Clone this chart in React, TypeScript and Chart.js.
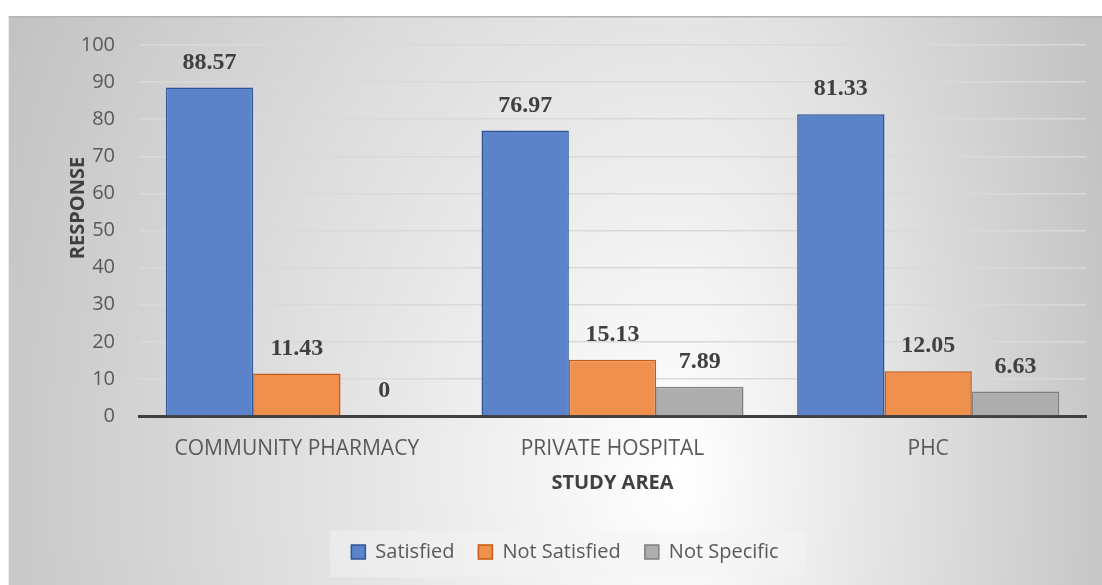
import React, { useEffect, useRef } from "react";
import { Chart, registerables } from "chart.js";

Chart.register(...registerables);

const categories = ["COMMUNITY PHARMACY", "PRIVATE HOSPITAL", "PHC"];
const satisfied = [88.57, 76.97, 81.33];
const notSatisfied = [11.43, 15.13, 12.05];
const notSpecific = [0, 7.89, 6.63];
const seriesNames = ["Satisfied", "Not Satisfied", "Not Specific"];
const yMin = 0;
const yMax = 100;
const yStep = 10;
const yTitle = "RESPONSE";
const xTitle = "STUDY AREA";

const FONT = "'Open Sans', 'DejaVu Sans', sans-serif";

let bgCache: HTMLCanvasElement | null = null;
function makeBackground(w: number, h: number): HTMLCanvasElement {
  if (bgCache && bgCache.width === w && bgCache.height === h) return bgCache;
  const c = document.createElement("canvas");
  c.width = w;
  c.height = h;
  const cx = c.getContext("2d")!;
  const img = cx.createImageData(w, h);
  const ccx = 672, ccy = 454;
  for (let y = 0; y < h; y++) {
    for (let x = 0; x < w; x++) {
      const dx = x - ccx;
      const dy = y - ccy;
      const rx = dx < 0 ? 740 : 450;
      const ry = 1000;
      let t = Math.sqrt((dx / rx) * (dx / rx) + (dy / ry) * (dy / ry));
      if (t > 1) t = 1;
      const v = Math.round(255 - 60 * t);
      const i = (y * w + x) * 4;
      img.data[i] = v;
      img.data[i + 1] = v;
      img.data[i + 2] = v;
      img.data[i + 3] = 255;
    }
  }
  cx.putImageData(img, 0, 0);
  bgCache = c;
  return c;
}

const bgPlugin = {
  id: "bgPlugin",
  beforeDraw(chart: any) {
    const ctx = chart.ctx;
    const w = chart.width;
    const h = chart.height;
    ctx.save();
    ctx.drawImage(makeBackground(w, h), 0, 0);
    ctx.strokeStyle = "#b4b4b4";
    ctx.lineWidth = 1.5;
    ctx.beginPath();
    ctx.moveTo(0, 0.75);
    ctx.lineTo(w, 0.75);
    ctx.stroke();
    ctx.strokeStyle = "#ececec";
    ctx.lineWidth = 1;
    ctx.beginPath();
    ctx.moveTo(0.5, 0);
    ctx.lineTo(0.5, h);
    ctx.stroke();
    ctx.fillStyle = "rgba(244,244,244,0.45)";
    ctx.fillRect(322, 515, 475, 46);
    ctx.restore();
  },
};

const labelPlugin = {
  id: "labelPlugin",
  afterDatasetsDraw(chart: any) {
    const ctx = chart.ctx;
    ctx.save();
    ctx.font = "bold 24px 'Liberation Serif', 'Times New Roman', serif";
    ctx.fillStyle = "#404040";
    ctx.textAlign = "center";
    ctx.textBaseline = "middle";
    chart.data.datasets.forEach((ds: any, di: number) => {
      const meta = chart.getDatasetMeta(di);
      meta.data.forEach((el: any, i: number) => {
        const v = ds.data[i];
        ctx.fillText(String(v), el.x, el.y - 25);
      });
    });
    ctx.font = `bold 20px ${FONT}`;
    ctx.translate(70, 192);
    ctx.rotate(-Math.PI / 2);
    ctx.fillText(yTitle, 0, 0);
    ctx.restore();
  },
};

const legendShiftPlugin = {
  id: "legendShift",
  afterLayout(chart: any) {
    const lg = chart.legend;
    if (lg) {
      lg.top -= 13;
      lg.bottom -= 13;
      lg.left += 18;
      lg.right += 18;
    }
  },
};

export default function App() {
  const ref = useRef<HTMLCanvasElement | null>(null);
  useEffect(() => {
    document.body.style.overflow = "hidden";
    const chart = new Chart(ref.current!, {
      type: "bar",
      data: {
        labels: categories,
        datasets: [
          {
            label: seriesNames[0],
            data: satisfied,
            backgroundColor: "#5b83ca",
            borderColor: "#2f5597",
            borderWidth: 1.5,
          },
          {
            label: seriesNames[1],
            data: notSatisfied,
            backgroundColor: "#ef904f",
            borderColor: "#c55a11",
            borderWidth: 1.5,
          },
          {
            label: seriesNames[2],
            data: notSpecific,
            backgroundColor: "#adadad",
            borderColor: "#7f7f7f",
            borderWidth: 1.5,
          },
        ],
      },
      options: {
        animation: false,
        responsive: true,
        maintainAspectRatio: false,
        layout: { padding: { top: 29, right: 16, bottom: 0, left: 0 } },
        datasets: {
          bar: { categoryPercentage: 0.83, barPercentage: 1 },
        },
        plugins: {
          tooltip: { enabled: false },
          legend: {
            position: "bottom",
            labels: {
              boxWidth: 14,
              boxHeight: 14,
              padding: 24,
              color: "#595959",
              font: { family: FONT, size: 20 },
            },
          },
        },
        scales: {
          x: {
            z: 1,
            grid: { display: false, drawTicks: false },
            border: { display: true, color: "#404040", width: 3 },
            ticks: {
              color: "#595959",
              padding: 20,
              font: { family: FONT, size: 21 },
            },
            title: {
              display: true,
              text: xTitle,
              color: "#404040",
              font: { family: FONT, size: 20, weight: "bold" },
              padding: { top: 0, bottom: 36 },
            },
            afterFit(scale: any) {
              scale.height = 115;
            },
          },
          y: {
            min: yMin,
            max: yMax,
            ticks: {
              stepSize: yStep,
              color: "#595959",
              padding: 24,
              font: { family: FONT, size: 20 },
            },
            grid: { color: "#d9d9d9", lineWidth: 1.5, drawTicks: false },
            border: { display: false },
            afterFit(scale: any) {
              scale.width = 131;
              scale.paddingTop = 0;
              scale.paddingBottom = 0;
            },
          },
        },
      },
      plugins: [bgPlugin, labelPlugin, legendShiftPlugin],
    } as any);
    return () => chart.destroy();
  }, []);
  return (
    <div style={{ position: "absolute", left: 8, top: 16, width: 1094, height: 569 }}>
      <canvas ref={ref} />
    </div>
  );
}
